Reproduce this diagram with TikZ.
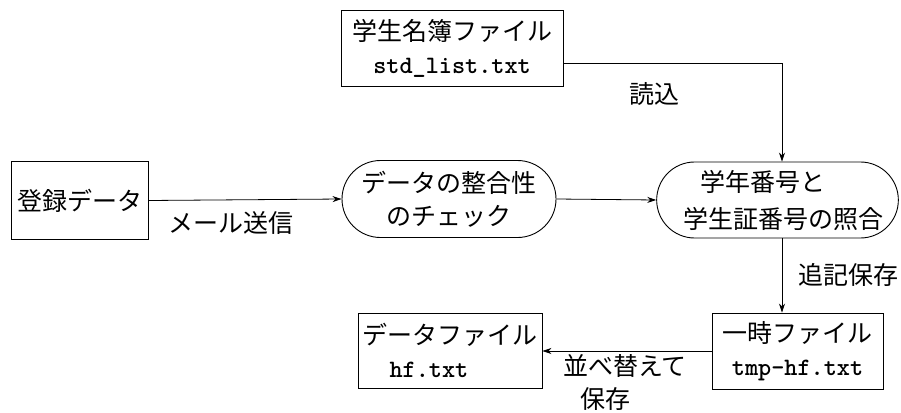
\documentclass[tikz,border=0pt]{standalone}
\usepackage{fontspec}
\setmainfont{Noto Sans CJK JP}
\setmonofont{Latin Modern Mono Light}
\usetikzlibrary{shapes.misc,arrows.meta}
\newcommand{\fname}[1]{{\ttfamily\bfseries #1}}
\tikzset{
  every node/.style={font=\fontsize{25}{33}\selectfont},
  filebox/.style={draw, line width=0.9pt, rectangle, inner sep=0pt, align=center},
  procbox/.style={draw, line width=0.9pt, rounded rectangle, inner sep=0pt, align=center},
  flow/.style={line width=0.8pt, -{Stealth[length=9pt,width=6pt]}},
  lbl/.style={inner sep=0pt, align=left}
}
\begin{document}
\begin{tikzpicture}[x=1pt,y=-1pt]
\useasboundingbox (0,0) rectangle (901,412);
% nodes
\node[filebox, minimum width=137pt, minimum height=78pt] (reg) at (79.5,200.5) {登録データ};
\node[procbox, minimum width=214pt, minimum height=77pt] (chk) at (449,199) {データの整合性\\のチェック};
\node[procbox, minimum width=219pt, minimum height=76pt, align=left] (mat) at (777.5,200) {\hspace*{29pt}学年番号と\\[4pt]\hspace*{12pt}学生証番号の照合};
\node[filebox, minimum width=222pt, minimum height=76pt] (std) at (452,48) {学生名簿ファイル\\\fname{std\_list.txt}};
\node[filebox, minimum width=171pt, minimum height=76pt] (tmp) at (797.5,351) {一時ファイル\\\fname{tmp-hf.txt}};
\node[filebox, minimum width=184pt, minimum height=75pt, align=left] (dat) at (450,350.5) {データファイル\\\hspace*{27pt}\fname{hf.txt}};
% labels
\node[lbl] (lmail) at (231,223) {メール送信};
\node[lbl] (lread) at (654,94) {読込};
\node[lbl] (lapp) at (848,275) {追記保存};
\node[lbl, anchor=north west] (lsort) at (563,354) {並べ替えて\\\hspace*{17pt}保存};
% connectors
\draw[flow] (reg.east) -- (chk.west);
\draw[flow] (chk.east) -- (mat.west);
\draw[flow] ([yshift=-15pt]std.east) -| ([xshift=4.5pt]mat.north);
\draw[flow] ([xshift=4.5pt]mat.south) -- ([xshift=4.5pt]mat.south |- tmp.north);
\draw[flow] (tmp.west) -- (tmp.west -| dat.east);
\end{tikzpicture}
\end{document}
